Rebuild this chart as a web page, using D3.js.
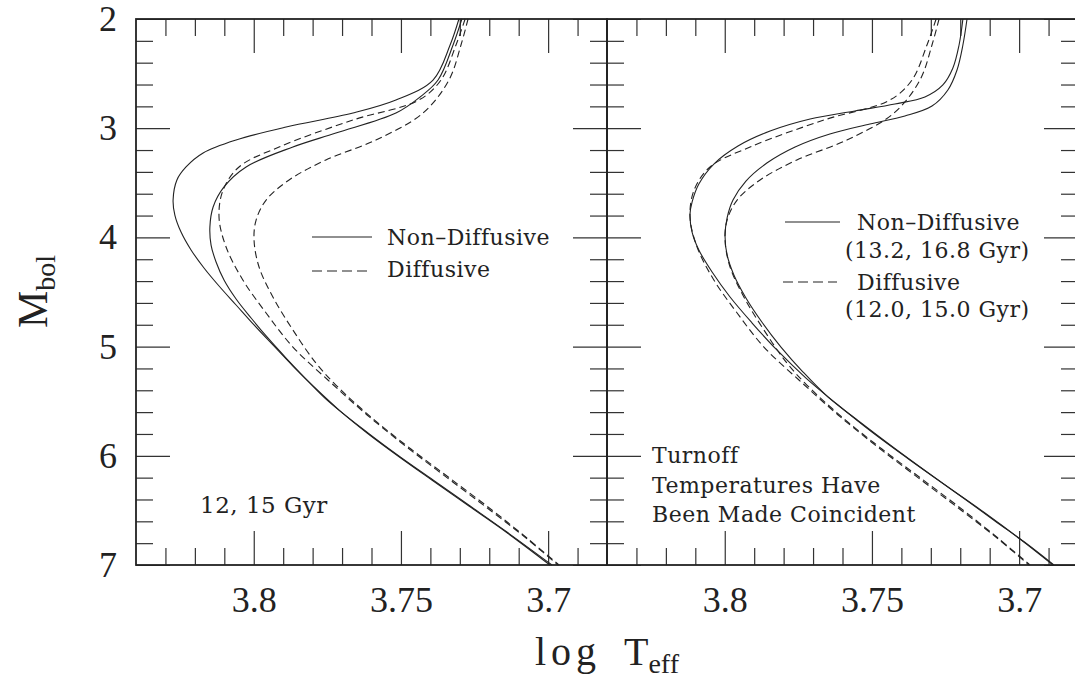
<!DOCTYPE html>
<html>
<head>
<meta charset="utf-8">
<script src="https://cdn.jsdelivr.net/npm/d3@7"></script>
<style>
  html, body { margin: 0; padding: 0; background: #fff; }
  svg { display: block; }
</style>
</head>
<body>
<svg id="chart" width="1075" height="680"></svg>
<script>
// Isochrones as [log Teff, Mbol] pairs.
// Non-diffusive 12 and 15 Gyr (left panel)
const nonDiff12 = [[3.7303,2.000],[3.7333,2.238],[3.7391,2.559],[3.7517,2.742],[3.7663,2.861],[3.7890,2.989],[3.8060,3.108],[3.8172,3.227],[3.8230,3.355],[3.8261,3.474],[3.8274,3.658],[3.8268,3.795],[3.8247,3.951],[3.8213,4.115],[3.8169,4.280],[3.8118,4.445],[3.8060,4.619],[3.7999,4.802],[3.7935,4.985],[3.7867,5.178],[3.7795,5.370],[3.7710,5.581],[3.7615,5.791],[3.7510,6.002],[3.7395,6.222],[3.7269,6.460],[3.7143,6.698],[3.6994,7.000]];
const nonDiff15 = [[3.7293,2.000],[3.7323,2.238],[3.7374,2.559],[3.7435,2.714],[3.7517,2.861],[3.7721,3.044],[3.7867,3.172],[3.8026,3.355],[3.8101,3.538],[3.8138,3.722],[3.8149,3.905],[3.8145,4.070],[3.8128,4.225],[3.8101,4.390],[3.8060,4.564],[3.8009,4.738],[3.7952,4.921],[3.7887,5.114],[3.7819,5.306],[3.7744,5.507],[3.7612,5.791],[3.7507,6.002],[3.7391,6.222],[3.7265,6.460],[3.7140,6.698],[3.6987,7.000]];
// Diffusive 12.0 and 15.0 Gyr (both panels)
const diff12 = [[3.7282,2.000],[3.7313,2.238],[3.7364,2.559],[3.7439,2.742],[3.7663,2.925],[3.7914,3.172],[3.8050,3.355],[3.8104,3.566],[3.8118,3.813],[3.8094,4.088],[3.8037,4.390],[3.7958,4.692],[3.7867,5.004],[3.7748,5.306],[3.7615,5.626],[3.7476,5.929],[3.7337,6.213],[3.7198,6.496],[3.7075,6.753],[3.6967,7.000]];
const diff15 = [[3.7272,2.000],[3.7296,2.238],[3.7337,2.559],[3.7425,2.861],[3.7585,3.108],[3.7755,3.291],[3.7880,3.474],[3.7958,3.658],[3.7992,3.841],[3.7999,4.024],[3.7982,4.271],[3.7935,4.546],[3.7867,4.848],[3.7789,5.150],[3.7721,5.352],[3.7598,5.654],[3.7466,5.938],[3.7330,6.213],[3.7191,6.496],[3.7072,6.753],[3.6963,7.000]];
// Non-diffusive 13.2 and 16.8 Gyr, turnoff-matched (right panel)
const nonDiff13p2 = [[3.7191,2.000],[3.7204,2.238],[3.7225,2.449],[3.7259,2.604],[3.7320,2.714],[3.7422,2.778],[3.7558,2.842],[3.7710,2.916],[3.7846,3.026],[3.7955,3.163],[3.8037,3.328],[3.8088,3.511],[3.8111,3.676],[3.8118,3.786],[3.8111,3.951],[3.8088,4.115],[3.8043,4.317],[3.7982,4.546],[3.7907,4.784],[3.7823,5.031],[3.7724,5.288],[3.7615,5.535],[3.7500,5.782],[3.7371,6.038],[3.7242,6.286],[3.7116,6.524],[3.6997,6.762],[3.6885,7.000]];
const nonDiff16p8 = [[3.7177,2.000],[3.7191,2.238],[3.7211,2.467],[3.7242,2.650],[3.7296,2.797],[3.7388,2.888],[3.7507,2.962],[3.7643,3.053],[3.7761,3.172],[3.7857,3.319],[3.7928,3.484],[3.7972,3.658],[3.7992,3.822],[3.7999,3.987],[3.7992,4.161],[3.7969,4.344],[3.7928,4.555],[3.7874,4.775],[3.7809,5.004],[3.7734,5.233],[3.7649,5.462],[3.7541,5.690],[3.7429,5.919],[3.7313,6.148],[3.7194,6.377],[3.7082,6.597],[3.6973,6.808],[3.6882,7.000]];

// Axis ticks
const xMajorTicks = [3.8, 3.75, 3.7];
const xMinorTicks = [3.83, 3.82, 3.81, 3.79, 3.78, 3.77, 3.76, 3.74, 3.73, 3.72, 3.71, 3.69];
const yMajorTicks = [2, 3, 4, 5, 6, 7];
const yMinorTicks = [2.2, 2.4, 2.6, 2.8, 3.2, 3.4, 3.6, 3.8, 4.2, 4.4, 4.6, 4.8, 5.2, 5.4, 5.6, 5.8, 6.2, 6.4, 6.6, 6.8];
const xDomain = [3.84, 3.68];
const yDomain = [2, 7];

const svg = d3.select("#chart");
const plotTop = 19, plotBottom = 565, panelWidth = 471;
const tickFont = "'Liberation Serif', 'Times New Roman', serif";
const noteFont = "'DejaVu Serif', serif";
const ink = "#222";

const y = d3.scaleLinear().domain(yDomain).range([plotTop, plotBottom]);

const panels = [
  {
    x0: 136,
    curves: [
      { data: nonDiff12, dashed: false },
      { data: nonDiff15, dashed: false },
      { data: diff12, dashed: true },
      { data: diff15, dashed: true }
    ],
    yLabels: true
  },
  {
    x0: 607,
    curves: [
      { data: nonDiff13p2, dashed: false },
      { data: nonDiff16p8, dashed: false },
      { data: diff12, dashed: true },
      { data: diff15, dashed: true }
    ],
    yLabels: false
  }
];

function styleAxis(g) {
  g.select(".domain").remove();
  g.selectAll(".tick line").attr("stroke", "#333").attr("stroke-width", 1.2);
  g.selectAll(".tick text")
    .attr("font-family", tickFont)
    .attr("font-size", 36)
    .attr("fill", ink);
}

panels.forEach(p => {
  const x = d3.scaleLinear().domain(xDomain).range([p.x0, p.x0 + panelWidth]);
  const g = svg.append("g");

  // ticks on all four sides, pointing inward
  g.append("g").attr("transform", `translate(0,${plotBottom})`)
    .call(d3.axisBottom(x).tickValues(xMinorTicks).tickSize(-17).tickFormat(""))
    .call(styleAxis);
  g.append("g").attr("transform", `translate(0,${plotBottom})`)
    .call(d3.axisBottom(x).tickValues(xMajorTicks).tickSize(-34).tickPadding(21).tickFormat(d => String(d)))
    .call(styleAxis);
  g.append("g").attr("transform", `translate(0,${plotTop})`)
    .call(d3.axisTop(x).tickValues(xMinorTicks).tickSize(-17).tickFormat(""))
    .call(styleAxis);
  g.append("g").attr("transform", `translate(0,${plotTop})`)
    .call(d3.axisTop(x).tickValues(xMajorTicks).tickSize(-34).tickFormat(""))
    .call(styleAxis);

  g.append("g").attr("transform", `translate(${p.x0},0)`)
    .call(d3.axisLeft(y).tickValues(yMinorTicks).tickSize(-17).tickFormat(""))
    .call(styleAxis);
  g.append("g").attr("transform", `translate(${p.x0},0)`)
    .call(d3.axisLeft(y).tickValues(yMajorTicks).tickSize(-34).tickPadding(19)
      .tickFormat(p.yLabels ? (d => String(d)) : ""))
    .call(styleAxis);
  g.append("g").attr("transform", `translate(${p.x0 + panelWidth},0)`)
    .call(d3.axisRight(y).tickValues(yMinorTicks).tickSize(-17).tickFormat(""))
    .call(styleAxis);
  g.append("g").attr("transform", `translate(${p.x0 + panelWidth},0)`)
    .call(d3.axisRight(y).tickValues(yMajorTicks).tickSize(-34).tickFormat(""))
    .call(styleAxis);

  // frame
  g.append("rect")
    .attr("x", p.x0).attr("y", plotTop)
    .attr("width", panelWidth).attr("height", plotBottom - plotTop)
    .attr("fill", "none").attr("stroke", ink).attr("stroke-width", 1.8);

  // isochrones
  const line = d3.line()
    .x(d => x(d[0]))
    .y(d => y(d[1]))
    .curve(d3.curveCatmullRom.alpha(0.5));

  g.selectAll("path.iso")
    .data(p.curves)
    .join("path")
    .attr("class", "iso")
    .attr("d", d => line(d.data))
    .attr("fill", "none")
    .attr("stroke", ink)
    .attr("stroke-width", 1.1)
    .attr("stroke-dasharray", d => d.dashed ? "7,4" : null);
});

// legends and notes
function legendLine(x1, x2, yy, dashed) {
  svg.append("line")
    .attr("x1", x1).attr("x2", x2).attr("y1", yy).attr("y2", yy)
    .attr("stroke", ink).attr("stroke-width", 1.2)
    .attr("stroke-dasharray", dashed ? "10,5" : null);
}
function note(txt, xx, yy, size) {
  svg.append("text")
    .attr("x", xx).attr("y", yy)
    .attr("font-family", noteFont)
    .attr("font-size", size || 22)
    .attr("letter-spacing", 0.5)
    .attr("fill", ink)
    .text(txt);
}

legendLine(312, 372, 237, false);
note("Non\u2013Diffusive", 387, 245);
legendLine(312, 368, 271, true);
note("Diffusive", 387, 277);
note("12,  15  Gyr", 200, 513, 23);

legendLine(785, 840, 222, false);
note("Non\u2013Diffusive", 857, 230);
note("(13.2,  16.8  Gyr)", 845, 258);
legendLine(783, 837, 282, true);
note("Diffusive", 857, 290);
note("(12.0,  15.0  Gyr)", 845, 317);

note("Turnoff", 652, 463);
note("Temperatures Have", 652, 493);
note("Been Made Coincident", 652, 522);

// axis titles
const xt = svg.append("text")
  .attr("x", 535).attr("y", 665)
  .attr("font-family", tickFont)
  .attr("font-size", 40)
  .attr("fill", ink);
xt.append("tspan").attr("letter-spacing", 5).text("log");
xt.append("tspan").attr("x", 624).text("T");
xt.append("tspan").attr("font-size", 28).attr("dy", 8).text("eff");

const yt = svg.append("text")
  .attr("transform", "translate(47,328) rotate(-90)")
  .attr("font-family", tickFont)
  .attr("font-size", 42)
  .attr("fill", ink);
yt.append("tspan").text("M");
yt.append("tspan").attr("font-size", 28).attr("dy", 8).text("bol");
</script>
</body>
</html>
